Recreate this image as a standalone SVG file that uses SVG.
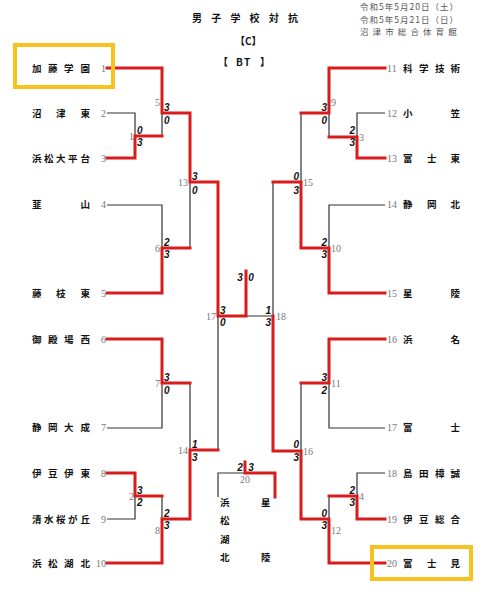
<svg xmlns="http://www.w3.org/2000/svg" width="480" height="591" viewBox="0 0 480 591">
<style>
.bg{fill:#fff}
.red{fill:none;stroke:#d81c1c;stroke-width:3;stroke-linejoin:miter;stroke-linecap:square}
.blk{fill:none;stroke:#333;stroke-width:1.2}
.nm{font-family:"Noto Sans CJK JP","Noto Sans CJK SC",sans-serif;font-weight:700;font-size:9.5px;fill:#111}
.hd{font-family:"Noto Sans CJK JP",sans-serif;font-weight:700;font-size:10px;fill:#111}
.dt{font-family:"Noto Sans CJK JP",sans-serif;font-size:8.5px;fill:#555}
.sd{font-family:"Liberation Serif",serif;font-size:10px;fill:#777}
.sc{font-family:"Liberation Sans",sans-serif;font-weight:700;font-style:italic;font-size:10px;fill:#111}
.box{fill:none;stroke:#f7c21d;stroke-width:4}
</style>
<rect class="bg" x="0" y="0" width="480" height="591"/>
<g id="header">
<text class="hd" x="192 211.2 230.4 249.6 268.8 288" y="22">男子学校対抗</text>
<text class="hd" x="235" y="45">【C】</text>
<text class="hd" x="218 236 244 260" y="66">【BT】</text>
<text class="dt" x="360" y="10" textLength="98" lengthAdjust="spacing">令和5年5月20日（土）</text>
<text class="dt" x="360" y="22.5" textLength="98" lengthAdjust="spacing">令和5年5月21日（日）</text>
<text class="dt" x="360 372.6 385.2 397.8 410.4 423 435.6 448.2" y="35">沼津市総合体育館</text>
</g>
<g id="connectors">
<path class="blk" d="M107,113 H135 V136 M162,113 V136 M107,205 H162 V248 M190,182 V248 M107,428 H162 V383 M190,383 V450 M107,519 H135 V496 M162,496 V519 M218,316 V450 M246,316 H273"/>
<path class="blk" d="M385,113 H357 V137 M329,113 V137 M385,205 H329 V248 M301,113 V182 M385,428 H329 V383 M301,383 V451 M385,473 H357 V496 M329,496 V519 M273,182 V316"/>
<path class="blk" d="M218,497 V473 H245"/>
<path class="red" d="M107,68 H162 V113 H190 V182 H218 V316 H246 V271"/>
<path class="red" d="M107,158 H135 V136 H162"/>
<path class="red" d="M107,293 H162 V248 H190"/>
<path class="red" d="M107,339 H162 V383 H190"/>
<path class="red" d="M107,473 H135 V496 H162"/>
<path class="red" d="M107,563 H162 V519 H190 V450 H218"/>
<path class="red" d="M385,68 H329 V113 H301"/>
<path class="red" d="M385,158 H357 V137 H329"/>
<path class="red" d="M385,293 H329 V248 H301 V182 H273"/>
<path class="red" d="M385,339 H329 V383 H301"/>
<path class="red" d="M385,519 H357 V496 H329"/>
<path class="red" d="M385,563 H329 V519 H301 V451 H273 V316"/>
<path class="red" d="M245,462 V473 H275 V497"/>
</g>
<g id="team1"><text class="nm" x="32 48 64 80.5" y="72">加藤学園</text><text class="sd" x="106" y="72" text-anchor="end">1</text></g>
<g id="team2"><text class="nm" x="32 56 80.5" y="117">沼津東</text><text class="sd" x="106" y="117" text-anchor="end">2</text></g>
<g id="team3"><text class="nm" x="32 44 56 68 80.5" y="162">浜松大平台</text><text class="sd" x="106" y="162" text-anchor="end">3</text></g>
<g id="team4"><text class="nm" x="32 80.5" y="208">韮山</text><text class="sd" x="106" y="208" text-anchor="end">4</text></g>
<g id="team5"><text class="nm" x="32 56 80.5" y="297">藤枝東</text><text class="sd" x="106" y="297" text-anchor="end">5</text></g>
<g id="team6"><text class="nm" x="32 48 64 80.5" y="343">御殿場西</text><text class="sd" x="106" y="343" text-anchor="end">6</text></g>
<g id="team7"><text class="nm" x="32 48 64 80.5" y="431">静岡大成</text><text class="sd" x="106" y="431" text-anchor="end">7</text></g>
<g id="team8"><text class="nm" x="32 48 64 80.5" y="477">伊豆伊東</text><text class="sd" x="106" y="477" text-anchor="end">8</text></g>
<g id="team9"><text class="nm" x="32 44 56 68 80.5" y="523">清水桜が丘</text><text class="sd" x="106" y="523" text-anchor="end">9</text></g>
<g id="team10"><text class="nm" x="32 48 64 80.5" y="567">浜松湖北</text><text class="sd" x="106" y="567" text-anchor="end">10</text></g>
<g id="team11"><text class="nm" x="403 419 435 450.5" y="72">科学技術</text><text class="sd" x="387" y="72">11</text></g>
<g id="team12"><text class="nm" x="403 450.5" y="117">小笠</text><text class="sd" x="387" y="117">12</text></g>
<g id="team13"><text class="nm" x="403 427 450.5" y="162">富士東</text><text class="sd" x="387" y="162">13</text></g>
<g id="team14"><text class="nm" x="403 427 450.5" y="208">静岡北</text><text class="sd" x="387" y="208">14</text></g>
<g id="team15"><text class="nm" x="403 450.5" y="297">星陵</text><text class="sd" x="387" y="297">15</text></g>
<g id="team16"><text class="nm" x="403 450.5" y="343">浜名</text><text class="sd" x="387" y="343">16</text></g>
<g id="team17"><text class="nm" x="403 450.5" y="431">富士</text><text class="sd" x="387" y="431">17</text></g>
<g id="team18"><text class="nm" x="403 419 435 450.5" y="477">島田樟誠</text><text class="sd" x="387" y="477">18</text></g>
<g id="team19"><text class="nm" x="403 419 435 450.5" y="523">伊豆総合</text><text class="sd" x="387" y="523">19</text></g>
<g id="team20"><text class="nm" x="403 427 450.5" y="567">富士見</text><text class="sd" x="387" y="567">20</text></g>
<g id="highlights">
<rect class="box" x="15" y="45" width="98" height="42"/>
<rect class="box" x="372" y="547" width="99" height="32"/>
</g>
<g id="matches-left">
<g id="m1"><text class="sd" x="134" y="140" text-anchor="end">1</text><text class="sc" x="137" y="134">0</text><text class="sc" x="137" y="146">3</text></g>
<g id="m5"><text class="sd" x="160" y="106" text-anchor="end">5</text><text class="sc" x="164" y="111">3</text><text class="sc" x="164" y="124">0</text></g>
<g id="m6"><text class="sd" x="160" y="252" text-anchor="end">6</text><text class="sc" x="164" y="246">2</text><text class="sc" x="164" y="258">3</text></g>
<g id="m13"><text class="sd" x="188" y="186" text-anchor="end">13</text><text class="sc" x="192" y="180">3</text><text class="sc" x="192" y="194">0</text></g>
<g id="m7"><text class="sd" x="160" y="387" text-anchor="end">7</text><text class="sc" x="164" y="381">3</text><text class="sc" x="164" y="394">0</text></g>
<g id="m2"><text class="sd" x="134" y="500" text-anchor="end">2</text><text class="sc" x="137" y="494">3</text><text class="sc" x="137" y="506">2</text></g>
<g id="m8"><text class="sd" x="160" y="534" text-anchor="end">8</text><text class="sc" x="164" y="517">2</text><text class="sc" x="164" y="529">3</text></g>
<g id="m14"><text class="sd" x="188" y="454" text-anchor="end">14</text><text class="sc" x="192" y="448">1</text><text class="sc" x="192" y="461">3</text></g>
<g id="m17"><text class="sd" x="216" y="320" text-anchor="end">17</text><text class="sc" x="220" y="314">3</text><text class="sc" x="220" y="326">0</text></g>
</g>
<g id="matches-right">
<g id="m9"><text class="sd" x="331" y="106">9</text><text class="sc" x="327" y="111" text-anchor="end">3</text><text class="sc" x="327" y="124" text-anchor="end">0</text></g>
<g id="m3"><text class="sd" x="359" y="141">3</text><text class="sc" x="355" y="134" text-anchor="end">2</text><text class="sc" x="355" y="146" text-anchor="end">3</text></g>
<g id="m15"><text class="sd" x="303" y="186">15</text><text class="sc" x="299" y="180" text-anchor="end">0</text><text class="sc" x="299" y="194" text-anchor="end">3</text></g>
<g id="m10"><text class="sd" x="331" y="252">10</text><text class="sc" x="327" y="246" text-anchor="end">2</text><text class="sc" x="327" y="258" text-anchor="end">3</text></g>
<g id="m11"><text class="sd" x="331" y="387">11</text><text class="sc" x="327" y="381" text-anchor="end">3</text><text class="sc" x="327" y="394" text-anchor="end">2</text></g>
<g id="m16"><text class="sd" x="303" y="455">16</text><text class="sc" x="299" y="448" text-anchor="end">0</text><text class="sc" x="299" y="461" text-anchor="end">3</text></g>
<g id="m4"><text class="sd" x="359" y="500">4</text><text class="sc" x="355" y="494" text-anchor="end">2</text><text class="sc" x="355" y="506" text-anchor="end">3</text></g>
<g id="m12"><text class="sd" x="331" y="534">12</text><text class="sc" x="327" y="517" text-anchor="end">0</text><text class="sc" x="327" y="529" text-anchor="end">3</text></g>
<g id="m18"><text class="sd" x="276" y="320">18</text><text class="sc" x="271" y="314" text-anchor="end">1</text><text class="sc" x="271" y="326" text-anchor="end">3</text></g>
</g>
<g id="final"><text class="sc" x="240" y="281" text-anchor="middle">3</text><text class="sc" x="251" y="281" text-anchor="middle">0</text></g>
<g id="m20">
<text class="sd" x="245" y="483" text-anchor="middle">20</text>
<text class="sc" x="240" y="471" text-anchor="middle">2</text><text class="sc" x="251" y="471" text-anchor="middle">3</text>
<text class="nm" x="220 220 220 220" y="506 524 543 561">浜松湖北</text>
<text class="nm" x="261 261" y="506 561">星陵</text>
</g>
</svg>
